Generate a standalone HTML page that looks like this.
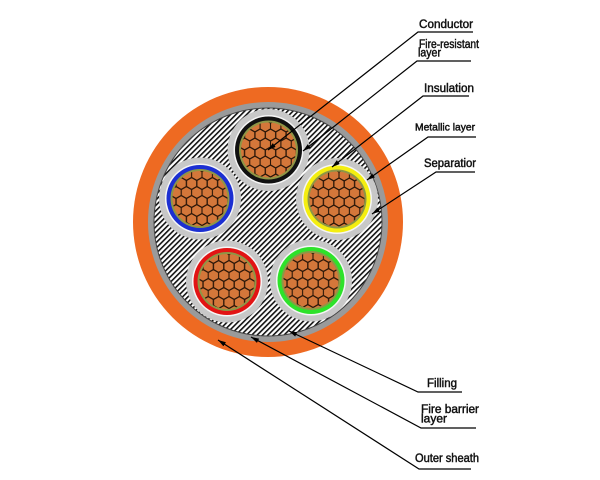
<!DOCTYPE html>
<html><head><meta charset="utf-8"><style>
html,body{margin:0;padding:0;background:#fff;}
svg{display:block;}
text{font-family:"Liberation Sans",sans-serif;font-size:11.5px;fill:#111;stroke:#111;stroke-width:0.45;}
</style></head><body>
<svg width="600" height="480" viewBox="0 0 600 480" xmlns="http://www.w3.org/2000/svg">
<defs>
<pattern id="hatch" width="3.8" height="3.8" patternUnits="userSpaceOnUse" patternTransform="rotate(45)">
<rect width="3.8" height="3.8" fill="#fff"/>
<rect width="1.6" height="3.8" fill="#111"/>
</pattern>
<pattern id="hex" width="10.39" height="18" patternUnits="userSpaceOnUse" patternTransform="translate(2,3)">
<rect width="10.39" height="18" fill="#d4773a"/>
<g fill="none" stroke="#2a1608" stroke-width="1.1">
<path d="M0,-6 L5.2,-3 L5.2,3 L0,6 L-5.2,3 L-5.2,-3 Z"/>
<path d="M10.39,-6 L15.59,-3 L15.59,3 L10.39,6 L5.2,3 L5.2,-3 Z"/>
<path d="M5.2,3 L10.39,6 L10.39,12 L5.2,15 L0,12 L0,6 Z"/>
<path d="M0,12 L5.2,15 L5.2,21 L0,24 L-5.2,21 L-5.2,15 Z"/>
<path d="M10.39,12 L15.59,15 L15.59,21 L10.39,24 L5.2,21 L5.2,15 Z"/>
</g>
</pattern>
<marker id="ar" viewBox="0 0 10 6" refX="10" refY="3" markerWidth="8" markerHeight="4.8" orient="auto" markerUnits="userSpaceOnUse">
<path d="M0,0 L10,3 L0,6 Z" fill="#000"/>
</marker>
<g id="core">
<circle r="41" fill="#c8c8c8"/>
<circle r="35" fill="#f6f6f6"/>
</g>
</defs>

<!-- cable -->
<circle cx="268" cy="222" r="135" fill="#ee6a22"/>
<circle cx="268" cy="222" r="120" fill="#9a9a9a"/>
<circle cx="268" cy="222" r="114" fill="url(#hatch)" stroke="#444" stroke-width="1"/>

<!-- top core black -->
<g transform="translate(268.5,150)">
<use href="#core"/>
<circle r="33.5" fill="#111"/>
<circle r="29.5" fill="#8e9646"/>
<circle r="27.5" fill="url(#hex)"/>
</g>
<!-- left core blue -->
<g transform="translate(200,198.5)">
<use href="#core"/>
<circle r="33.5" fill="#1c2fd2"/>
<circle r="29.5" fill="#8e9646"/>
<circle r="27.5" fill="url(#hex)"/>
</g>
<!-- right core yellow -->
<g transform="translate(337,199)">
<use href="#core"/>
<circle r="33.5" fill="#f4ee10"/>
<circle r="29.5" fill="#8e9646"/>
<circle r="27.5" fill="url(#hex)"/>
</g>
<!-- bottom-left red -->
<g transform="translate(227,281.5)">
<use href="#core"/>
<circle r="33.5" fill="#e21414"/>
<circle r="29.5" fill="#8e9646"/>
<circle r="27.5" fill="url(#hex)"/>
</g>
<!-- bottom-right green -->
<g transform="translate(311,280.5)">
<use href="#core"/>
<circle r="33.5" fill="#2ee22a"/>
<circle r="29.5" fill="#8e9646"/>
<circle r="27.5" fill="url(#hex)"/>
</g>

<!-- leader lines -->
<g stroke="#000" stroke-width="1.2" fill="none">
<path d="M473,32 L418,32 L268,150" marker-end="url(#ar)"/>
<path d="M471,61 L417,61 L303,151" marker-end="url(#ar)"/>
<path d="M469,96 L423,96 L332,167" marker-end="url(#ar)"/>
<path d="M476,137 L428,137 L367,180" marker-end="url(#ar)"/>
<path d="M475,172 L436,172 L372,214" marker-end="url(#ar)"/>
<path d="M462,392 L418,392 L289,331" marker-end="url(#ar)"/>
<path d="M476,428 L421,428 L251,337" marker-end="url(#ar)"/>
<path d="M471,469 L419,469 L218,340" marker-end="url(#ar)"/>
</g>

<!-- labels -->
<text x="419" y="28" textLength="54" lengthAdjust="spacingAndGlyphs">Conductor</text>
<text x="419" y="48" textLength="60" lengthAdjust="spacingAndGlyphs">Fire-resistant</text>
<text x="418" y="56.5" textLength="23" lengthAdjust="spacingAndGlyphs">layer</text>
<text x="424" y="92" textLength="50" lengthAdjust="spacingAndGlyphs">Insulation</text>
<text x="415" y="130.5" textLength="60" lengthAdjust="spacingAndGlyphs" style="font-size:10.5px">Metallic layer</text>
<text x="424" y="167" textLength="52" lengthAdjust="spacingAndGlyphs">Separatior</text>
<text x="427" y="387" textLength="30" lengthAdjust="spacingAndGlyphs">Filling</text>
<text x="421" y="413" textLength="58" lengthAdjust="spacingAndGlyphs">Fire barrier</text>
<text x="421" y="422.5" textLength="26" lengthAdjust="spacingAndGlyphs">layer</text>
<text x="415" y="462" textLength="64" lengthAdjust="spacingAndGlyphs">Outer sheath</text>
</svg>
</body></html>
